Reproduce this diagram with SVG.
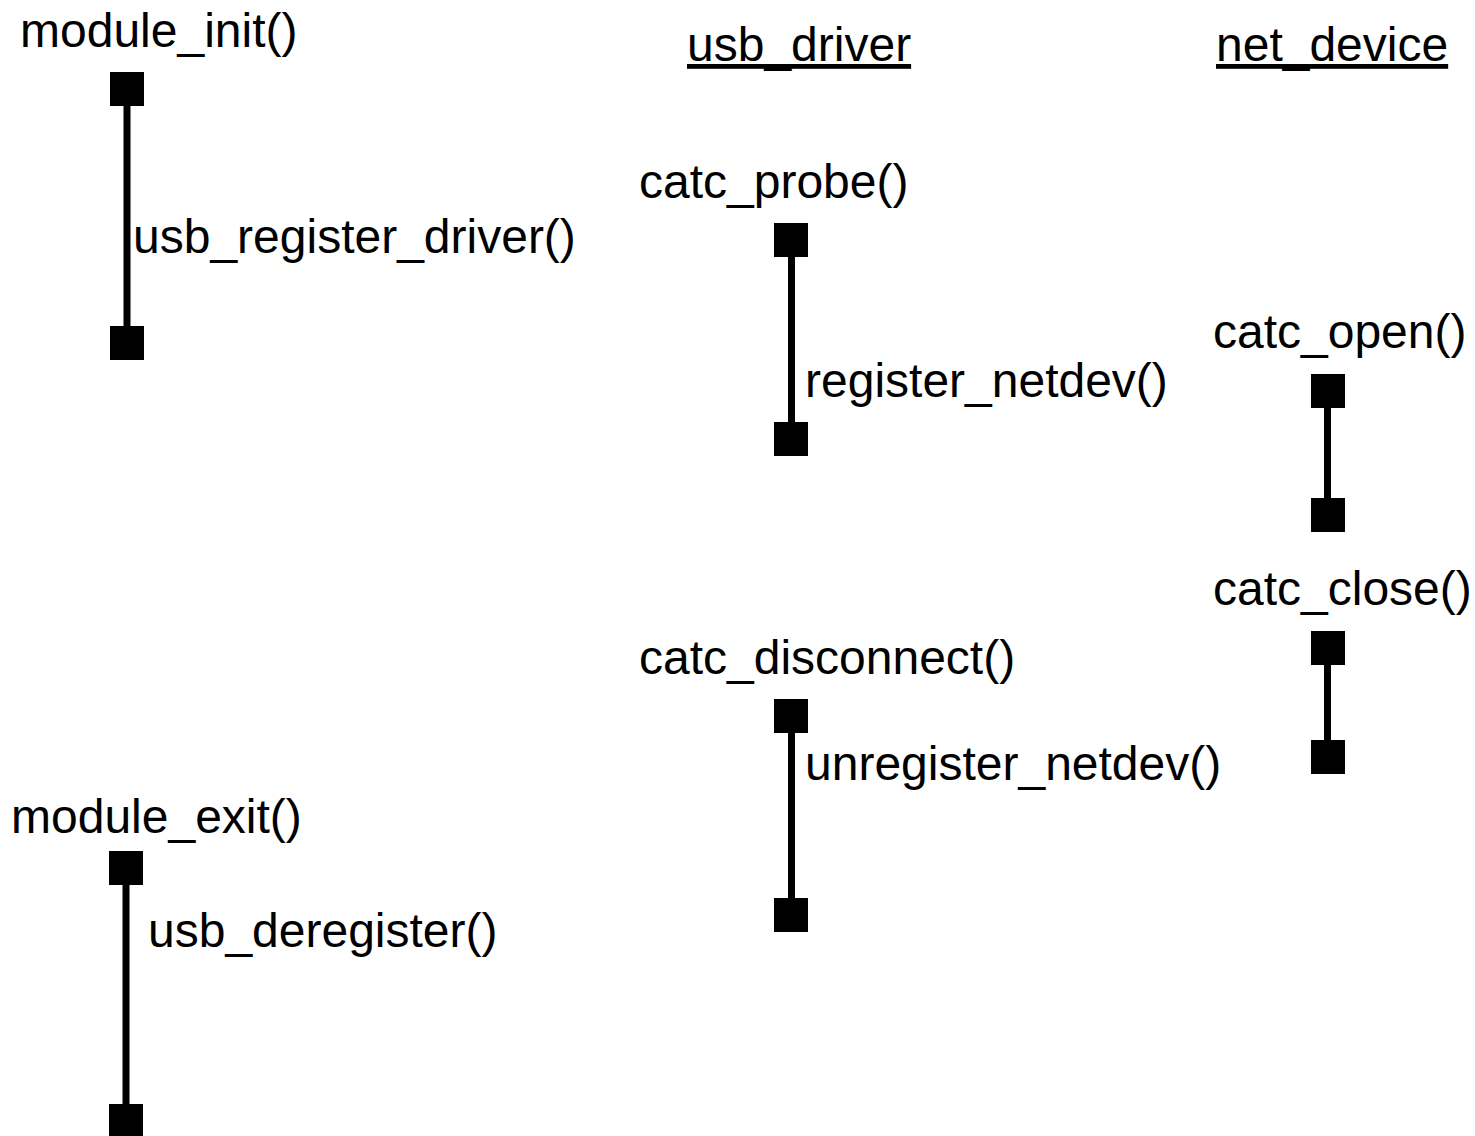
<svg xmlns="http://www.w3.org/2000/svg" xmlns:xlink="http://www.w3.org/1999/xlink" width="1475" height="1136" viewBox="0 0 1475 1136">
<style>
  text { font-family: "Liberation Sans", Arial, sans-serif; font-size: 48px; fill: #000; }
  .hdr { text-decoration: underline; }
  .bar { stroke: #000; stroke-width: 7; fill: none; }
  .sq { fill: #000; }
</style>
<defs>
  <rect id="sq" class="sq" x="-17" y="-17" width="34" height="34"/>
</defs>
<rect width="1475" height="1136" fill="#fff"/>

<g id="headers">
  <text id="usb_driver" class="hdr" x="687" y="61">usb_driver</text>
  <text id="net_device" class="hdr" x="1216" y="61">net_device</text>
</g>

<g id="connectors">
  <line class="bar" x1="127" y1="106" x2="127" y2="326"/>
  <line class="bar" x1="791.5" y1="257" x2="791.5" y2="422"/>
  <line class="bar" x1="1327.5" y1="408" x2="1327.5" y2="498"/>
  <line class="bar" x1="1327.5" y1="665" x2="1327.5" y2="740"/>
  <line class="bar" x1="791.5" y1="733" x2="791.5" y2="898"/>
  <line class="bar" x1="126" y1="885" x2="126" y2="1104"/>
</g>

<g id="node-module_init">
  <text x="20" y="47">module_init()</text>
  <use xlink:href="#sq" x="127" y="89"/>
  <use xlink:href="#sq" x="127" y="343"/>
  <text x="133" y="253">usb_register_driver()</text>
</g>

<g id="node-catc_probe">
  <text x="639" y="198">catc_probe()</text>
  <use xlink:href="#sq" x="791" y="240"/>
  <use xlink:href="#sq" x="791" y="439"/>
  <text x="805" y="397">register_netdev()</text>
</g>

<g id="node-catc_open">
  <text x="1213" y="348">catc_open()</text>
  <use xlink:href="#sq" x="1328" y="391"/>
  <use xlink:href="#sq" x="1328" y="515"/>
</g>

<g id="node-catc_close">
  <text x="1213" y="605">catc_close()</text>
  <use xlink:href="#sq" x="1328" y="648"/>
  <use xlink:href="#sq" x="1328" y="757"/>
</g>

<g id="node-catc_disconnect">
  <text x="639" y="674">catc_disconnect()</text>
  <use xlink:href="#sq" x="791" y="716"/>
  <use xlink:href="#sq" x="791" y="915"/>
  <text x="805" y="780">unregister_netdev()</text>
</g>

<g id="node-module_exit">
  <text x="11" y="833">module_exit()</text>
  <use xlink:href="#sq" x="126" y="868"/>
  <use xlink:href="#sq" x="126" y="1121"/>
  <text x="148" y="947">usb_deregister()</text>
</g>
</svg>
